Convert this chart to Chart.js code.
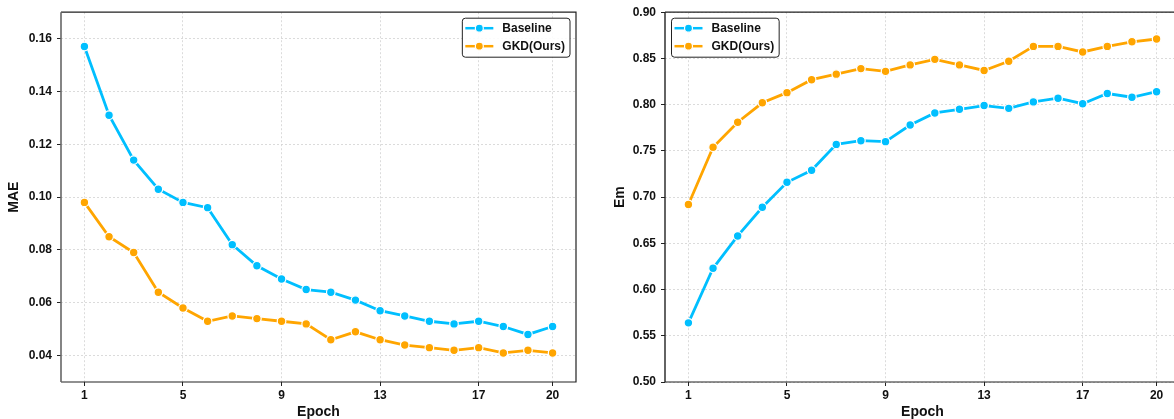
<!DOCTYPE html>
<html lang="en">
<head>
<meta charset="UTF-8">
<title>MAE / Em per Epoch</title>
<script src="https://cdn.jsdelivr.net/npm/chart.js"></script>
<style>
    html, body { margin: 0; padding: 0; width: 1174px; height: 419px; overflow: hidden; background: #fff; }
    canvas { position: absolute; top: 0; }
    #mae-chart { left: 0; }
    #em-chart { left: 587px; }
</style>
</head>
<body>
<canvas id="mae-chart" width="587" height="425"></canvas>
<canvas id="em-chart" width="600" height="425"></canvas>

<script>
    // data
    const epochs = [1, 2, 3, 4, 5, 6, 7, 8, 9, 10, 11, 12, 13, 14, 15, 16, 17, 18, 19, 20];
    const epochTicks = [1, 5, 9, 13, 17, 20];

    const maeBaseline = [0.157, 0.131, 0.114, 0.103, 0.098, 0.096, 0.082, 0.074, 0.069, 0.065,
                         0.064, 0.061, 0.057, 0.055, 0.053, 0.052, 0.053, 0.051, 0.048, 0.051];
    const maeGKD = [0.098, 0.085, 0.079, 0.064, 0.058, 0.053, 0.055, 0.054, 0.053, 0.052,
                    0.046, 0.049, 0.046, 0.044, 0.043, 0.042, 0.043, 0.041, 0.042, 0.041];
    const maeTicks = [0.04, 0.06, 0.08, 0.10, 0.12, 0.14, 0.16];

    const emBaseline = [0.564, 0.623, 0.658, 0.689, 0.716, 0.729, 0.757, 0.761, 0.760, 0.778,
                        0.791, 0.795, 0.799, 0.796, 0.803, 0.807, 0.801, 0.812, 0.808, 0.814];
    const emGKD = [0.692, 0.754, 0.781, 0.802, 0.813, 0.827, 0.833, 0.839, 0.836, 0.843,
                   0.849, 0.843, 0.837, 0.847, 0.863, 0.863, 0.857, 0.863, 0.868, 0.871];
    const emTicks = [0.50, 0.55, 0.60, 0.65, 0.70, 0.75, 0.80, 0.85, 0.90];

    const seriesNames = ['Baseline', 'GKD(Ours)'];
    const seriesColors = ['#00BFFF', '#FFA500'];

    const FONT = "'Liberation Sans', Arial, sans-serif";

    // box around the plot area
    const frame = {
        id: 'frame',
        afterDatasetsDraw(chart, args, opts) {
            const { ctx, chartArea: a } = chart;
            ctx.save();
            ctx.lineWidth = 1.2;
            ctx.strokeStyle = '#222';
            ctx.beginPath();
            ctx.moveTo(a.left, a.top); ctx.lineTo(a.right, a.top);
            ctx.lineTo(a.right, a.bottom); ctx.lineTo(a.left, a.bottom);
            ctx.stroke();
            ctx.strokeStyle = opts.leftColor || '#222';
            ctx.lineWidth = opts.leftWidth || 1.2;
            ctx.beginPath();
            ctx.moveTo(a.left, a.top); ctx.lineTo(a.left, a.bottom);
            ctx.stroke();
            ctx.restore();
        }
    };

    // legend drawn inside the plot, matplotlib style
    const boxLegend = {
        id: 'boxLegend',
        afterDraw(chart, args, opts) {
            const { ctx, chartArea: a } = chart;
            const sets = chart.data.datasets;
            ctx.save();
            ctx.font = `bold 12px ${FONT}`;
            const textW = Math.max(...sets.map(d => ctx.measureText(d.label).width));
            const w = 40 + textW + 5, h = 39;
            const x = opts.align === 'right' ? a.right - 6 - w : a.left + 6.5;
            const y = a.top + 6;

            ctx.beginPath();
            if (ctx.roundRect) ctx.roundRect(x, y, w, h, 3); else ctx.rect(x, y, w, h);
            ctx.fillStyle = 'rgba(255,255,255,0.9)';
            ctx.fill();
            ctx.strokeStyle = '#222';
            ctx.lineWidth = 1;
            ctx.stroke();

            sets.forEach((d, i) => {
                const cy = y + 10 + i * 18;
                ctx.strokeStyle = d.borderColor;
                ctx.lineWidth = 2.5;
                ctx.beginPath(); ctx.moveTo(x + 3, cy); ctx.lineTo(x + 31, cy); ctx.stroke();
                ctx.beginPath(); ctx.arc(x + 17, cy, 4, 0, Math.PI * 2);
                ctx.fillStyle = d.borderColor; ctx.fill();
                ctx.strokeStyle = '#fff'; ctx.lineWidth = 1.2; ctx.stroke();
                ctx.fillStyle = '#111';
                ctx.textAlign = 'left';
                ctx.textBaseline = 'middle';
                ctx.fillText(d.label, x + 40, cy + 0.5);
            });
            ctx.restore();
        }
    };

    function makeDatasets(a, b) {
        return [a, b].map((vals, i) => ({
            label: seriesNames[i],
            data: epochs.map((e, j) => ({ x: e, y: vals[j] })),
            borderColor: seriesColors[i],
            backgroundColor: seriesColors[i],
            borderWidth: 2.8,
            tension: 0,
            pointRadius: 4.3,
            pointBackgroundColor: seriesColors[i],
            pointBorderColor: '#fff',
            pointBorderWidth: 1.2
        }));
    }

    const tickFont = { family: FONT, size: 12, weight: 'bold' };
    const titleFont = { family: FONT, size: 14, weight: 'bold' };
    const gridOpts = { color: '#d2d2d2', lineWidth: 0.8, tickLength: 4, tickColor: '#222', tickWidth: 1 };

    function makeChart(id, cfg) {
        return new Chart(document.getElementById(id), {
            type: 'line',
            data: { datasets: makeDatasets(cfg.a, cfg.b) },
            options: {
                responsive: false,
                animation: false,
                events: [],
                layout: { padding: cfg.padding },
                plugins: {
                    legend: { display: false },
                    tooltip: { enabled: false },
                    frame: { leftColor: cfg.leftColor, leftWidth: cfg.leftWidth },
                    boxLegend: { align: cfg.legendAlign }
                },
                scales: {
                    x: {
                        type: 'linear',
                        min: 0.05,
                        max: 20.95,
                        afterBuildTicks: s => { s.ticks = epochTicks.map(v => ({ value: v })); },
                        afterFit: s => { s.height = 43; },
                        grid: gridOpts,
                        border: { display: false, dash: [2, 2] },
                        ticks: { color: '#111', font: tickFont, padding: 2, autoSkip: false, maxRotation: 0 },
                        title: { display: true, text: 'Epoch', color: '#111', font: titleFont, padding: { top: 0, bottom: 4 } }
                    },
                    y: {
                        min: cfg.yMin,
                        max: cfg.yMax,
                        afterBuildTicks: s => { s.ticks = cfg.yTicks.map(v => ({ value: v })); },
                        afterFit: s => { s.width = cfg.yWidth; },
                        grid: gridOpts,
                        border: { display: false, dash: [2, 2] },
                        ticks: { color: '#111', font: tickFont, padding: 5, callback: v => v.toFixed(2) },
                        title: { display: true, text: cfg.yTitle, color: '#111', font: titleFont, padding: { top: cfg.yTitlePad, bottom: 0 } }
                    }
                }
            },
            plugins: [frame, boxLegend]
        });
    }

    makeChart('mae-chart', {
        a: maeBaseline, b: maeGKD,
        yMin: 0.03, yMax: 0.17, yTicks: maeTicks,
        yTitle: 'MAE', yWidth: 61, yTitlePad: 6,
        padding: { left: 0, top: 9, right: 11, bottom: 0 },
        legendAlign: 'right', leftColor: '#666', leftWidth: 1.6
    });

    makeChart('em-chart', {
        a: emBaseline, b: emGKD,
        yMin: 0.50, yMax: 0.90, yTicks: emTicks,
        yTitle: 'Em', yWidth: 78, yTitlePad: 24.6,
        padding: { left: 0, top: 9, right: 7, bottom: 0 },
        legendAlign: 'left', leftColor: '#222', leftWidth: 1.4
    });
</script>
</body>
</html>
